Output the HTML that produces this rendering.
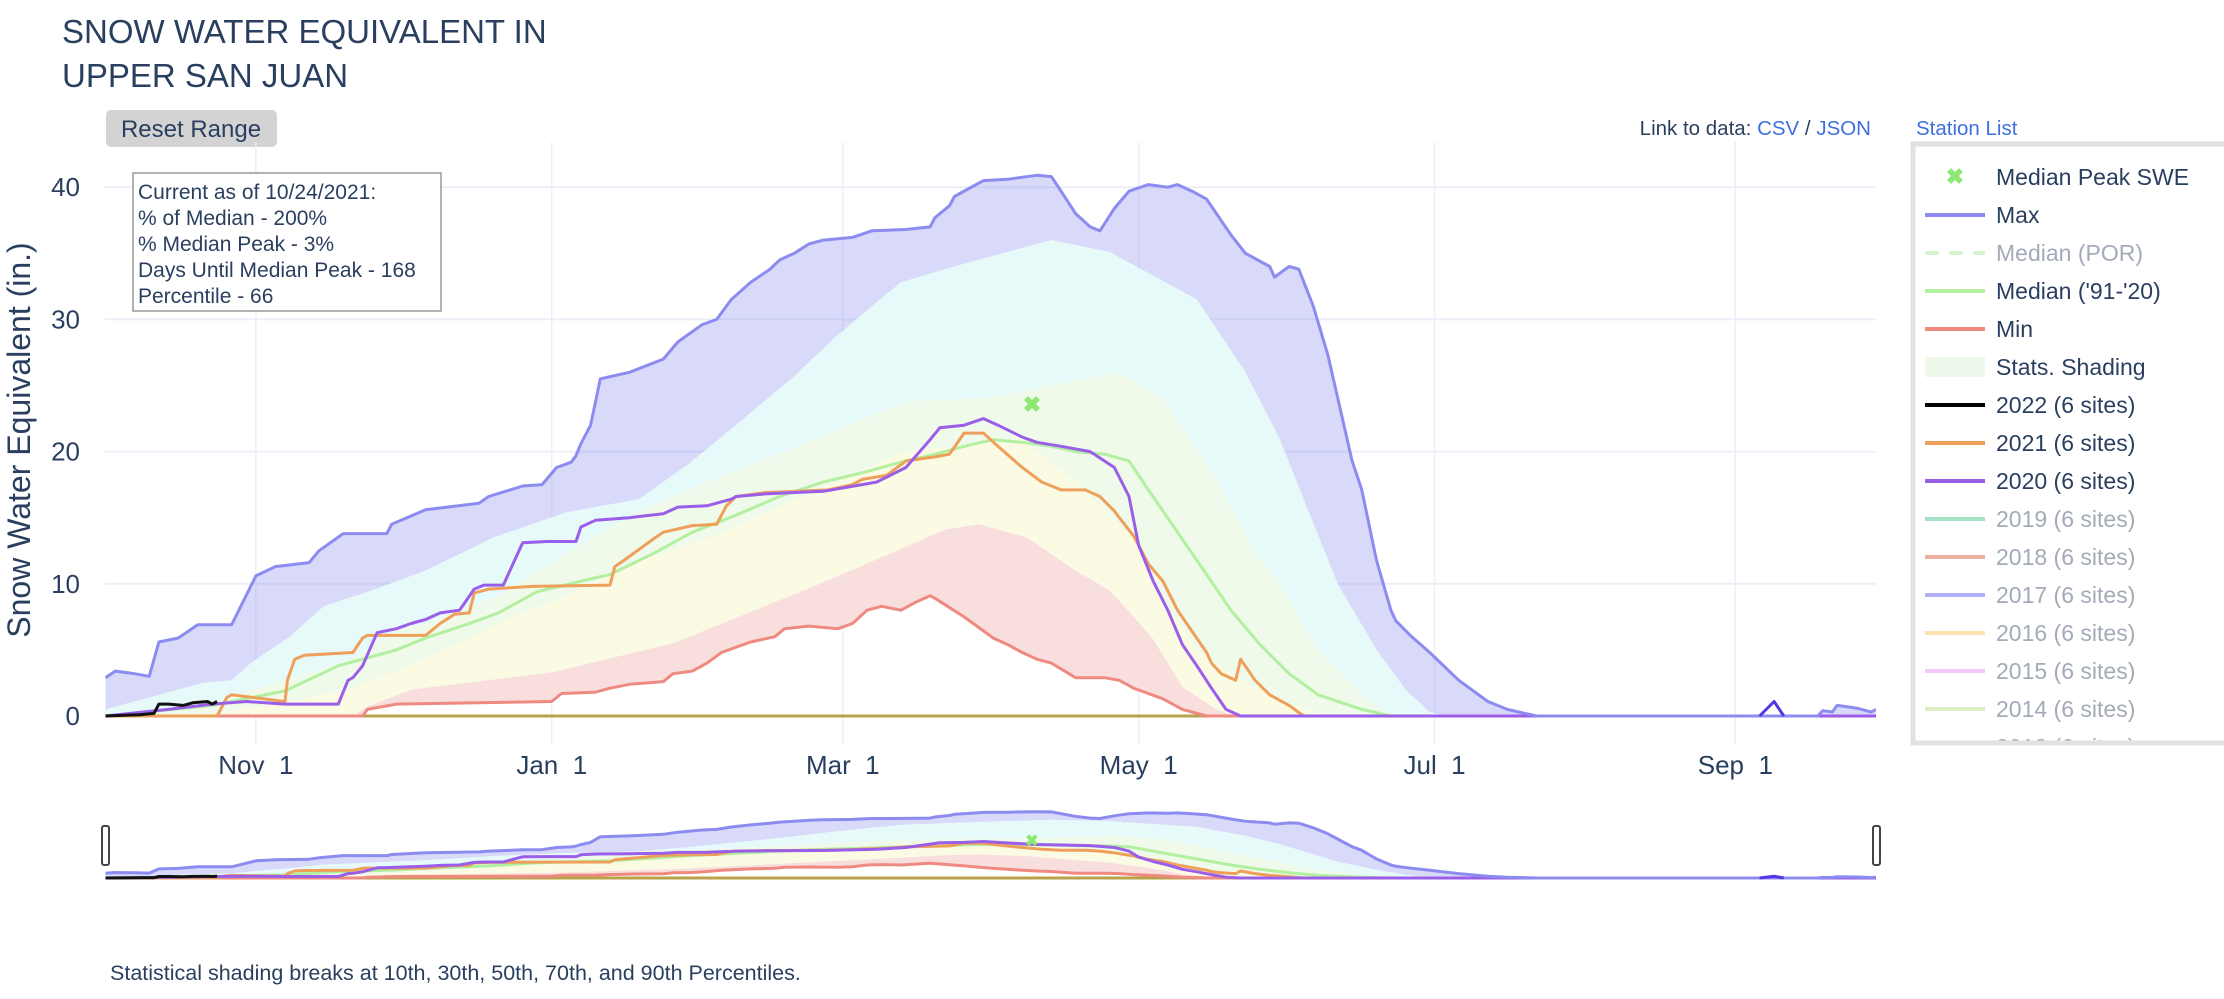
<!DOCTYPE html>
<html><head><meta charset="utf-8">
<style>
html,body{margin:0;padding:0;background:#fff;}
body{width:2224px;height:994px;overflow:hidden;font-family:"Liberation Sans",sans-serif;}
svg text{font-family:"Liberation Sans",sans-serif;}
</style></head>
<body>
<svg id="chart" width="2224" height="994" viewBox="0 0 2224 994" xmlns="http://www.w3.org/2000/svg">
  <defs>
    <clipPath id="plotclip"><rect x="105" y="142" width="1771" height="603"/></clipPath>
    <clipPath id="sliderclip"><rect x="105" y="800" width="1771" height="85"/></clipPath>
  </defs>
  <text x="62" y="43" font-size="33" fill="#2a3f5f">SNOW WATER EQUIVALENT IN</text>
  <text x="62" y="87" font-size="33" fill="#2a3f5f">UPPER SAN JUAN</text>
  <g>
    <rect x="106" y="110" width="171" height="37" rx="5" fill="#d3d3d3"/>
    <text x="191" y="137" font-size="24" fill="#2a3f5f" text-anchor="middle">Reset Range</text>
  </g>
  <text x="1871" y="135" font-size="20.5" fill="#2a3f5f" text-anchor="end">Link to data: <tspan fill="#3d6fe0">CSV</tspan> / <tspan fill="#3d6fe0">JSON</tspan></text>
  <text x="1916" y="135" font-size="20.5" fill="#3d6fe0">Station List</text>

  <g id="grid"></g>
  <g id="plot" clip-path="url(#plotclip)"></g>
  <g id="axes"></g>
  <g id="slider" clip-path="url(#sliderclip)"></g>
  <rect x="102" y="826" width="7" height="39" rx="2" fill="#fff" stroke="#444" stroke-width="2"/>
  <rect x="1873" y="826" width="7" height="39" rx="2" fill="#fff" stroke="#444" stroke-width="2"/>

  <text transform="translate(30,440) rotate(-90)" font-size="32" fill="#2a3f5f" text-anchor="middle">Snow Water Equivalent (in.)</text>

  <g>
    <rect x="133" y="173" width="308" height="138" fill="#fff" stroke="#999" stroke-width="1.5"/>
    <text x="138" y="199" font-size="21" fill="#2a3f5f">Current as of 10/24/2021:</text>
    <text x="138" y="225" font-size="21" fill="#2a3f5f">% of Median - 200%</text>
    <text x="138" y="251" font-size="21" fill="#2a3f5f">% Median Peak - 3%</text>
    <text x="138" y="277" font-size="21" fill="#2a3f5f">Days Until Median Peak - 168</text>
    <text x="138" y="303" font-size="21" fill="#2a3f5f">Percentile - 66</text>
  </g>

  <g>
    <rect x="1913" y="144" width="320" height="599" fill="#fff" stroke="#e2e2e2" stroke-width="5"/>
    <g id="legend-items"></g>
  </g>

  <text x="110" y="980" font-size="21.5" fill="#2a3f5f">Statistical shading breaks at 10th, 30th, 50th, 70th, and 90th Percentiles.</text>
</svg>
<script>
// Data: [dayOfWaterYear (0 = Oct 1), SWE inches]
const maxSeries = [[0,2.9],[2,3.4],[6,3.2],[9,3.0],[11,5.6],[15,5.9],[19,6.9],[26,6.9],[31,10.6],[35,11.3],[42,11.6],[44,12.5],[49,13.8],[58,13.8],[59,14.5],[66,15.6],[77,16.1],[79,16.6],[86,17.4],[90,17.5],[93,18.8],[96,19.2],[97,19.7],[98,20.6],[100,22],[102,25.5],[108,26],[115,27],[118,28.3],[123,29.6],[126,30],[129,31.5],[133,32.8],[137,33.8],[139,34.5],[142,35],[145,35.7],[148,36],[154,36.2],[158,36.7],[165,36.8],[170,37],[171,37.7],[174,38.6],[175,39.3],[178,39.9],[181,40.5],[186,40.6],[192,40.9],[195,40.8],[197,39.7],[200,38],[203,37],[205,36.7],[208,38.4],[211,39.7],[215,40.2],[219,40],[221,40.2],[224,39.7],[227,39.1],[232,36.4],[235,35],[240,34],[241,33.2],[244,34],[246,33.8],[249,31],[252,27.3],[254,24.1],[257,19.3],[259,17.1],[262,11.8],[265,8],[266,7.2],[269,6.1],[273,4.8],[279,2.7],[285,1.1],[289,0.5],[295,0],[353,0],[354,0.4],[356,0.3],[357,0.8],[361,0.6],[364,0.3],[365,0.5]];
const p90 = [[0,0.5],[10,1.5],[20,2.5],[26,2.7],[30,4],[38,6],[45,8.3],[55,9.5],[66,11],[80,13.5],[95,15.4],[110,16.4],[120,19],[130,22],[142,25.7],[150,28.5],[158,31],[164,32.8],[175,34],[185,35],[195,36],[207,35.1],[215,33.5],[225,31.5],[235,26],[242,21],[247,16.4],[254,10],[262,5],[268,2],[273,0.3],[276,0],[365,0]];
const p70 = [[0,0],[7,0.2],[22,1],[37,2.7],[51,4.3],[60,6.5],[66,7],[81,9.1],[95,12.3],[110,15.5],[124,17.7],[140,20],[165,23.8],[183,24.1],[195,25],[209,26],[218,24],[229,17.9],[236,13],[242,10],[250,5],[258,2],[264,0.3],[267,0],[365,0]];
const p50 = [[0,0],[22,0.2],[37,1],[51,2.1],[66,4.3],[81,7],[95,9.1],[110,11.8],[124,13.4],[140,16],[165,20],[189,20.9],[200,17.7],[212,13.4],[216,10],[225,5],[235,2.5],[245,0.8],[252,0],[365,0]];
const p30 = [[0,0],[51,0],[54,0.7],[63,2],[92,3.3],[117,5.5],[146,9.8],[160,12],[173,14.1],[180,14.5],[190,13.5],[200,11],[207,9.5],[212,7.5],[216,5.8],[222,2.2],[229,0.5],[233,0],[365,0]];
const minSeries = [[0,0],[53,0],[54,0.5],[60,0.9],[92,1.1],[94,1.7],[101,1.8],[104,2.1],[108,2.4],[115,2.6],[117,3.2],[121,3.4],[124,4],[127,4.8],[133,5.6],[138,6],[140,6.6],[145,6.8],[151,6.6],[154,7],[157,8],[160,8.3],[164,8],[167,8.6],[170,9.1],[171,8.9],[177,7.5],[183,5.9],[186,5.4],[189,4.8],[192,4.3],[195,4],[200,2.9],[206,2.9],[209,2.7],[212,2.1],[218,1.3],[222,0.5],[227,0],[365,0]];
const median9120 = [[0,0],[22,0.8],[37,1.9],[48,3.8],[60,5],[66,5.9],[75,7],[81,7.8],[89,9.4],[98,10.2],[104,10.7],[113,12.3],[121,13.9],[130,15.2],[139,16.6],[148,17.7],[156,18.4],[165,19.3],[171,19.8],[177,20.4],[183,20.9],[189,20.7],[195,20.4],[200,20],[206,19.8],[211,19.3],[215,17.1],[221,13.9],[227,10.7],[232,8],[238,5.4],[244,3.2],[250,1.6],[259,0.5],[265,0],[365,0]];
const y2021 = [[0,0],[23,0],[25,1.4],[26,1.6],[37,1.1],[37.5,2.7],[39,4.3],[41,4.6],[51,4.8],[53,5.9],[54,6.1],[66,6.1],[69,7],[72,7.7],[75,7.8],[76,9.3],[79,9.6],[88,9.8],[104,9.9],[105,11.3],[107,11.8],[113,13.4],[115,13.9],[121,14.4],[126,14.5],[128,15.9],[130,16.6],[136,16.9],[149,17.1],[154,17.5],[156,17.9],[161,18.2],[165,19.3],[171,19.6],[174,19.8],[177,21.4],[181,21.4],[184,20.4],[189,18.8],[193,17.7],[197,17.1],[202,17.1],[205,16.6],[208,15.5],[209,15],[212,13.6],[215,11.5],[218,10.2],[221,8],[224,6.4],[227,4.8],[228,4],[230,3.2],[233,2.7],[234,4.3],[237,2.7],[240,1.6],[244,0.8],[247,0],[365,0]];
const y2020 = [[0,0],[13,0.5],[22,0.9],[29,1.1],[37,0.9],[48,0.9],[50,2.7],[51,2.9],[53,3.8],[56,6.3],[60,6.6],[63,7],[66,7.3],[69,7.8],[73,8],[76,9.6],[78,9.9],[82,9.9],[85,12.3],[86,13.1],[91,13.2],[97,13.2],[98,14.3],[101,14.8],[108,15],[115,15.3],[118,15.8],[124,15.9],[129,16.4],[130,16.6],[136,16.8],[148,17],[156,17.5],[159,17.7],[165,18.8],[170,20.9],[172,21.8],[177,22],[181,22.5],[184,22],[189,21.1],[192,20.7],[197,20.4],[203,20],[208,18.8],[211,16.6],[213,12.9],[216,10.2],[219,8],[222,5.4],[225,3.8],[228,2.1],[231,0.5],[234,0],[365,0]];
const y2022 = [[0,0],[7,0.1],[10,0.2],[11,0.9],[13,0.9],[16,0.8],[18,1],[21,1.1],[22,0.9],[23,1.1]];
const spike = [[341,0],[344,1.1],[346,0]];
const medianPeak = [191,23.6];
const yTicks = [0,10,20,30,40];
const xTickDays = [31,92,152,213,274,336];
const xTickLabels = ["Nov  1","Jan  1","Mar  1","May  1","Jul  1","Sep  1"];

const NS = "http://www.w3.org/2000/svg";
const X0 = 105.5, X1 = 1876;
const xs = d => X0 + d * (X1 - X0) / 365;
const ys = v => 716 - v * 13.22;
const ys2 = v => 878 - v * 1.62;

function mk(tag, attrs, parent) {
  const el = document.createElementNS(NS, tag);
  for (const k in attrs) el.setAttribute(k, attrs[k]);
  parent.appendChild(el);
  return el;
}
function linePts(s, yf) { return s.map(p => xs(p[0]).toFixed(1) + "," + yf(p[1]).toFixed(1)).join(" "); }
function bandPts(upper, lower, yf) {
  return linePts(upper, yf) + " " + linePts(lower.slice().reverse(), yf);
}

const grid = document.getElementById("grid");
const axes = document.getElementById("axes");
yTicks.forEach(t => {
  const g = mk("line", {x1: 105, x2: 1876, y1: ys(t), y2: ys(t), stroke: "#ebf0f8", "stroke-width": t === 0 ? 3 : 2}, grid);
  
  
  const tx = mk("text", {x: 80, y: ys(t) + 9, "font-size": 26, fill: "#2a3f5f", "text-anchor": "end"}, axes);
  tx.textContent = t;
  
  
});
xTickDays.forEach((d, i) => {
  const g = mk("line", {x1: xs(d), x2: xs(d), y1: 142, y2: 745, stroke: "#ebf0f8", "stroke-width": 1.5}, grid);
  
  
  const tx = mk("text", {x: xs(d), y: 774, "font-size": 26, fill: "#2a3f5f", "text-anchor": "middle"}, axes);
  tx.textContent = xTickLabels[i].replace("  ", "\u00a0\u00a0");
  
  
});

function drawChart(parent, yf, lw, small) {
  const bands = [
    [maxSeries, p90, "rgba(140,140,240,0.33)", "band-90-max"],
    [p90, p70, "#e6fafa", "band-70-90"],
    [p70, p50, "#f0faea", "band-50-70"],
    [p50, p30, "#fbfbe4", "band-30-50"],
    [p30, minSeries, "#f9dede", "band-min-30"]
  ];
  bands.forEach(b => {
    const el = mk("polygon", {points: bandPts(b[0], b[1], yf), fill: b[2], stroke: "none"}, parent);
    
    
  });
  const baseline = mk("polyline", {points: linePts([[0,0],[365,0]], yf), fill: "none", stroke: "#b8a24a", "stroke-width": lw}, parent);
  
  
  const lines = [
    [minSeries, "#ee8a80", "min-line"],
    [median9120, "#b2f0a0", "median-91-20-line"],
    [y2021, "#eea05a", "year-2021-line"],
    [y2020, "#9b5ee8", "year-2020-line"],
    [maxSeries, "#8c8cf0", "max-line"],
    [spike, "#5535e5", "year-spike-line"],
    [y2022, "#111", "year-2022-line"]
  ];
  lines.forEach(l => {
    const el = mk("polyline", {points: linePts(l[0], yf), fill: "none", stroke: l[1], "stroke-width": lw, "stroke-linejoin": "round"}, parent);
    
    
  });
  const mp = mk("text", {x: xs(medianPeak[0]), y: yf(medianPeak[1]) + (small ? 6 : 8), "font-size": small ? 16 : 22, fill: "#8ce870", "text-anchor": "middle", "font-weight": "bold"}, parent);
  mp.textContent = "\u2716";
  
  
}
drawChart(document.getElementById("plot"), ys, 3, false);
drawChart(document.getElementById("slider"), ys2, 3, true);

// legend
const legendItems = [
  ["Median Peak SWE", "marker", "#8ce870", true],
  ["Max", "line", "#8c8cf0", true],
  ["Median (POR)", "dash", "#d6f5cc", false],
  ["Median ('91-'20)", "line", "#b2f0a0", true],
  ["Min", "line", "#ee8a80", true],
  ["Stats. Shading", "rect", "#eef8ea", true],
  ["2022 (6 sites)", "line", "#000", true],
  ["2021 (6 sites)", "line", "#eea05a", true],
  ["2020 (6 sites)", "line", "#9b5ee8", true],
  ["2019 (6 sites)", "line", "#a6e0c6", false],
  ["2018 (6 sites)", "line", "#efb0a0", false],
  ["2017 (6 sites)", "line", "#b0b0f5", false],
  ["2016 (6 sites)", "line", "#f8e2b0", false],
  ["2015 (6 sites)", "line", "#f5c8f5", false],
  ["2014 (6 sites)", "line", "#dcf0c4", false],
  ["2013 (6 sites)", "line", "#cfe0f0", false]
];
const lg = document.getElementById("legend-items");
legendItems.forEach((it, i) => {
  const y = 177 + i * 38;
  if (y > 760) return;
  const g = mk("g", {}, lg);
  
  
  if (it[1] === "marker") {
    const t = mk("text", {x: 1955, y: y + 7, "font-size": 22, fill: it[2], "text-anchor": "middle", "font-weight": "bold"}, g);
    t.textContent = "\u2716";
  } else if (it[1] === "rect") {
    mk("rect", {x: 1925, y: y - 10, width: 60, height: 20, fill: it[2]}, g);
  } else if (it[1] === "dash") {
    mk("line", {x1: 1925, x2: 1985, y1: y, y2: y, stroke: it[2], "stroke-width": 4, "stroke-dasharray": "14,10"}, g);
  } else {
    mk("line", {x1: 1925, x2: 1985, y1: y, y2: y, stroke: it[2], "stroke-width": 4}, g);
  }
  const t = mk("text", {x: 1996, y: y + 8, "font-size": 23, fill: it[3] ? "#2a3f5f" : "#a3aab8"}, g);
  t.textContent = it[0];
});
const cover = mk("rect", {x: 1916, y: 741, width: 310, height: 30, fill: "#fff"}, lg);


const bl = mk("line", {x1: 1911, x2: 2224, y1: 743, y2: 743, stroke: "#e2e2e2", "stroke-width": 5}, lg);


</script>
</body></html>
